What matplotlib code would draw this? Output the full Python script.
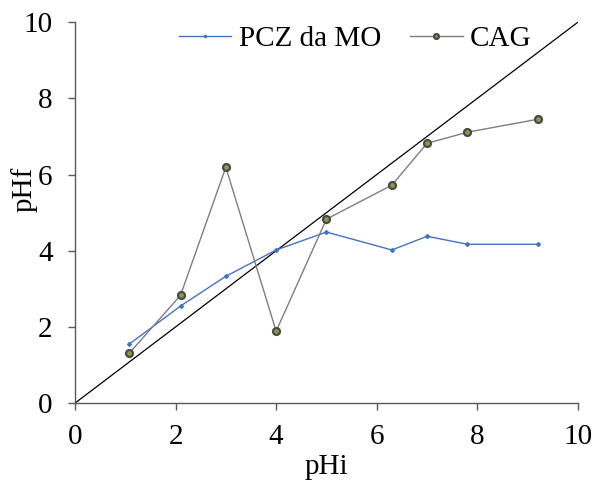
import numpy as np
import matplotlib
matplotlib.use("Agg")
import matplotlib.pyplot as plt

plt.rcParams['font.family'] = ['Liberation Serif', 'DejaVu Serif']

# pH data
phi = [1.08, 2.1, 3.0, 4.0, 5.0, 6.3, 7.0, 7.8, 9.2]
phf_pcz = [1.55, 2.55, 3.33, 4.02, 4.49, 4.02, 4.38, 4.17, 4.17]
phf_cag = [1.31, 2.83, 6.19, 1.89, 4.83, 5.72, 6.82, 7.11, 7.45]
ticks = [0, 2, 4, 6, 8, 10]

fig = plt.figure(figsize=(5.99, 4.8), dpi=100)
ax = fig.add_axes([0.125, 0.16, 0.84, 0.794])

# reference line y = x
ax.plot([0, 10], [0, 10], color='black', lw=0.9, zorder=1)

ax.plot(phi, phf_pcz, color='#4472C4', lw=1.0, marker='D', markersize=2,
        label='PCZ da MO', zorder=2)
ax.plot(phi, phf_cag, color='#7f7f7f', lw=1.0, marker='o', markersize=5,
        markerfacecolor='#8c9a48', markeredgecolor='#4a4a4a', markeredgewidth=1.6,
        label='CAG', zorder=3)

ax.set_xlim(0, 10)
ax.set_ylim(0, 10)
ax.set_xticks(ticks)
ax.set_yticks(ticks)
ax.tick_params(direction='out', length=5, width=1, colors='#595959',
               labelcolor='black', labelsize=21)
ax.tick_params(axis='x', pad=10)
ax.tick_params(axis='y', pad=11)
for side in ['top', 'right']:
    ax.spines[side].set_visible(False)
for side in ['left', 'bottom']:
    ax.spines[side].set_color('#595959')
    ax.spines[side].set_linewidth(1.0)

ax.set_xlabel('pHi', fontsize=21, labelpad=3)
ax.set_ylabel('pHf', fontsize=21, labelpad=-10, y=0.56)

ax.legend(loc='upper center', bbox_to_anchor=(0.557, 1.06), ncol=2, frameon=False,
          fontsize=21, handlelength=1.8, handletextpad=0.25, columnspacing=1.0,
          markerscale=0.7)

fig.savefig('out.png', dpi=100)
